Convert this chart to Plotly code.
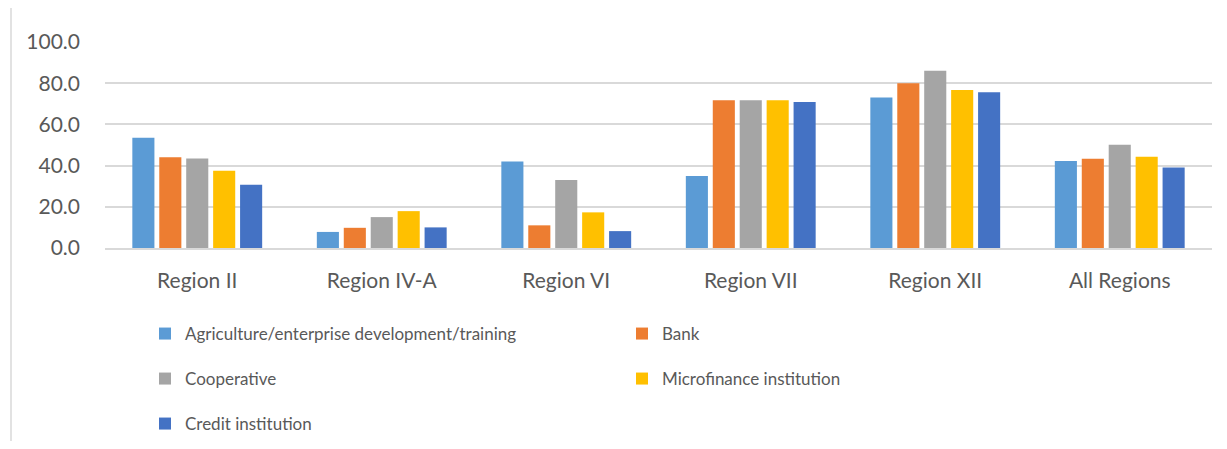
import plotly.graph_objects as go

regions = ["Region II", "Region IV-A", "Region VI", "Region VII", "Region XII", "All Regions"]
agriculture = [53.5, 7.8, 42.0, 34.9, 73.0, 42.2]
bank = [44.1, 9.8, 11.0, 71.7, 80.0, 43.3]
cooperative = [43.4, 15.0, 33.0, 71.7, 86.1, 50.1]
microfinance = [37.5, 17.9, 17.3, 71.7, 76.7, 44.3]
credit = [30.7, 10.0, 8.2, 70.9, 75.6, 39.1]

series = [
    ("Agriculture/enterprise development/training", agriculture, "#5B9BD5", "legend"),
    ("Bank", bank, "#ED7D31", "legend"),
    ("Cooperative", cooperative, "#A5A5A5", "legend2"),
    ("Microfinance institution", microfinance, "#FFC000", "legend2"),
    ("Credit institution", credit, "#4472C4", "legend3"),
]

LEGFONT = "Lato, sans-serif"
AXFONT = "Lato, sans-serif"
TXT = "#595959"

fig = go.Figure()
for name, vals, color, lg in series:
    fig.add_trace(go.Bar(x=regions, y=vals, name=name, marker_color=color,
                         marker_line_width=0, legend=lg))

OFF = 8  # page body margin
W, H = 1227 - 2 * OFF, 449 - 2 * OFF
ml, mt = 105 - OFF, 42 - OFF
mr = W - (1212 - OFF)
mb = H - (248 - OFF)
pw, ph = W - ml - mr, H - mt - mb

def py(page_pix):
    return ((248 - OFF) - (page_pix - OFF)) / ph

def px(page_pix):
    return ((page_pix - OFF) - ml) / pw

leg_common = dict(orientation="h", xanchor="left", yanchor="middle",
                  x=px(145), entrywidth=432, entrywidthmode="pixels",
                  font=dict(family=LEGFONT, size=17, color=TXT), bgcolor="rgba(0,0,0,0)",
                  traceorder="normal")

fig.update_layout(
    width=W, height=H,
    margin=dict(l=ml, r=mr, t=mt, b=mb, autoexpand=False),
    paper_bgcolor="white", plot_bgcolor="white",
    barmode="group", bargap=0.27, bargroupgap=0.18,
    showlegend=True,
    legend=dict(leg_common, y=py(334)),
    legend2=dict(leg_common, y=py(379)),
    legend3=dict(leg_common, y=py(424)),
    xaxis=dict(tickfont=dict(family=AXFONT, size=21, color=TXT), showline=True,
               linecolor="#d9d9d9", linewidth=1.5, ticks="", showgrid=False,
               ticklabelstandoff=13),
    yaxis=dict(range=[0, 100], dtick=20, tickformat=".1f",
               tickfont=dict(family=AXFONT, size=21, color=TXT),
               gridcolor="#d9d9d9", gridwidth=1.5, zeroline=False, ticks="",
               showline=False, ticklabelstandoff=24),
    shapes=[dict(type="line", xref="paper", yref="paper",
                 x0=px(11), x1=px(11), y0=py(449), y1=py(0),
                 line=dict(color="#d9d9d9", width=1.5))],
)

fig.write_html("out.html")
